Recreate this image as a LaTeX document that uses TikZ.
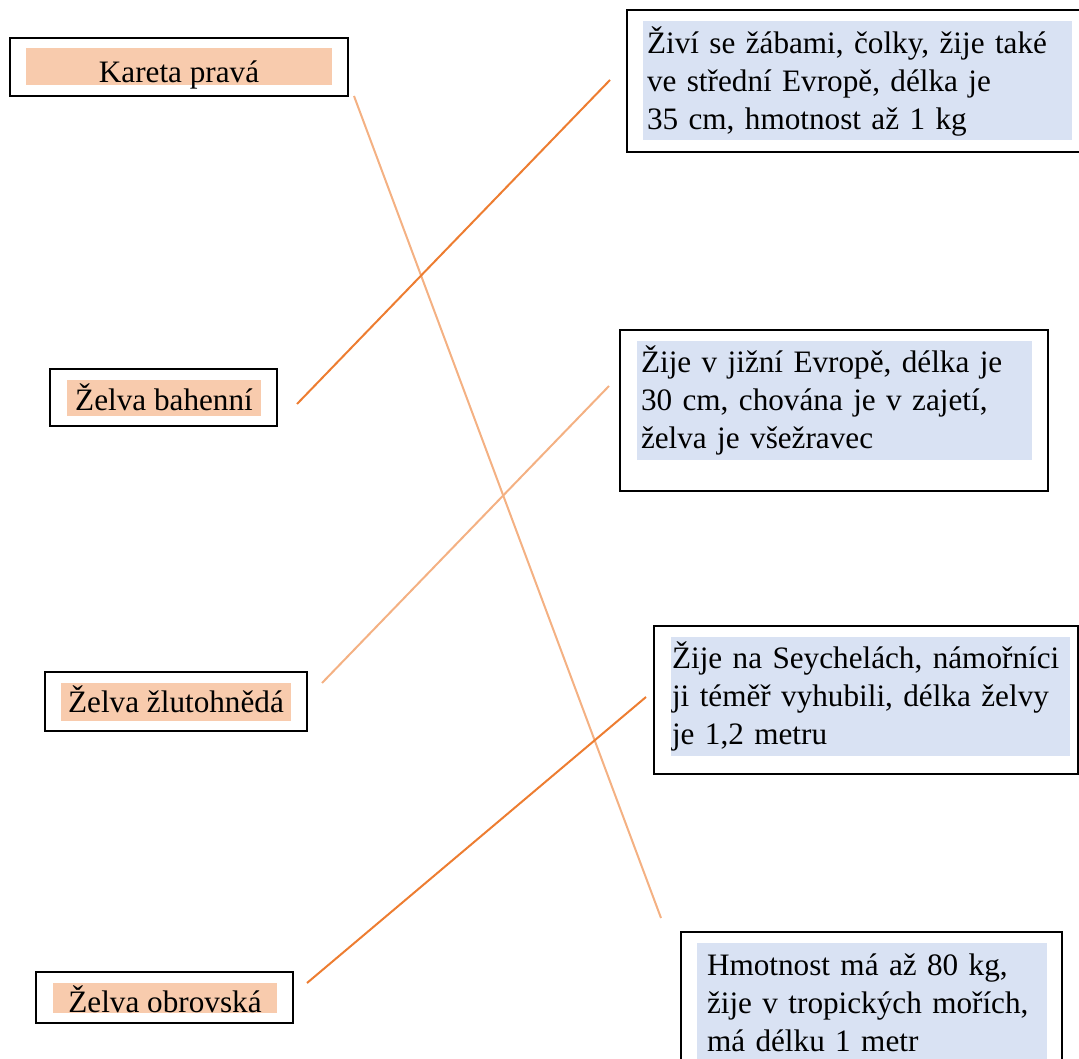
\documentclass[tikz,border=0pt]{standalone}
\usepackage{fontspec}
\setmainfont{Liberation Serif}
\usepackage{tikz}
\usetikzlibrary{positioning}
\definecolor{peach}{HTML}{F8CBAD}
\definecolor{paleblue}{HTML}{D9E2F3}
\definecolor{lightorange}{HTML}{F4B183}
\definecolor{darkorange}{HTML}{ED7D31}
\hyphenpenalty=10000

\begin{document}
\begin{tikzpicture}[
    x=0.5pt, y=-0.5pt,
    framebox/.style={draw, line width=1.1pt, inner sep=0pt, outer sep=0pt},
    namebox/.style={fill=peach, inner sep=0pt, text depth=0pt, font=\fontsize{15.6}{18.5}\selectfont},
    infobox/.style={fill=paleblue, align=left, inner xsep=2pt, inner ysep=0pt, minimum height=59.5pt, font=\fontsize{15.6}{19}\selectfont},
    lightlink/.style={draw=lightorange, line width=1pt},
    darklink/.style={draw=darkorange, line width=1pt}
]
\useasboundingbox (0,0) rectangle (1079,1058);

% Left column - turtle names
\node[framebox, minimum width=169pt, minimum height=29pt] (kareta) at (179,67) {};
\node[namebox, minimum width=153pt, minimum height=18.5pt, text height=16.5pt] (kareta-t) at (179,66.5) {Kareta pravá};

\node[framebox, minimum width=113.5pt, minimum height=28.5pt] (bahenni) at (163.5,397.5) {};
\node[namebox, minimum width=97pt, minimum height=18pt, text height=12pt] (bahenni-t) at (164,398) {Želva bahenní};

\node[framebox, minimum width=131pt, minimum height=29.5pt] (zluto) at (176,701.5) {};
\node[namebox, minimum width=115pt, minimum height=19pt, text height=10pt] (zluto-t) at (176,702) {Želva žlutohnědá};

\node[framebox, minimum width=128.5pt, minimum height=25.5pt] (obrov) at (164.5,997.5) {};
\node[namebox, minimum width=112pt, minimum height=15pt, text height=14pt] (obrov-t) at (165,998) {Želva obrovská};

% Right column - descriptions
\node[framebox, minimum width=231.5pt, minimum height=71pt] (zivi) at (858.5,81) {};
\node[infobox, text width=210.5pt] (zivi-t) at (857.5,81) {Živí se žábami, čolky, žije také\\ve střední Evropě, délka je\\35 cm, hmotnost až 1 kg};

\node[framebox, minimum width=214pt, minimum height=80.5pt] (jizni) at (834,410.5) {};
\node[infobox, text width=193.5pt] (jizni-t) at (834.5,400.5) {Žije v jižní Evropě, délka je\\30 cm, chována je v zajetí,\\želva je všežravec};

\node[framebox, minimum width=212pt, minimum height=74pt] (seych) at (866,700) {};
\node[infobox, inner xsep=0.5pt, text width=198.5pt] (seych-t) at (870.5,696.5) {Žije na Seychelách, námořníci\\ji téměř vyhubili, délka želvy\\je 1,2 metru};

\node[framebox, minimum width=190.5pt, minimum height=74pt] (hmot) at (871.5,1006) {};
\node[infobox, inner xsep=5pt, text width=165pt] (hmot-t) at (872,1002.5) {Hmotnost má až 80 kg,\\žije v tropických mořích,\\má délku 1 metr};

% Connections
\draw[lightlink] ([xshift=3pt]kareta.south east) -- ([xshift=-10pt, yshift=7pt]hmot.north west);
\draw[darklink] ([xshift=10pt, yshift=-3.25pt]bahenni.east) -- ([xshift=-8.5pt, yshift=0.5pt]zivi.west);
\draw[lightlink] ([xshift=7.5pt, yshift=9.25pt]zluto.east) -- ([xshift=-5.5pt, yshift=12.25pt]jizni.west);
\draw[darklink] ([xshift=7pt, yshift=7.25pt]obrov.east) -- ([xshift=-4pt, yshift=1.5pt]seych.west);
\end{tikzpicture}
\end{document}
